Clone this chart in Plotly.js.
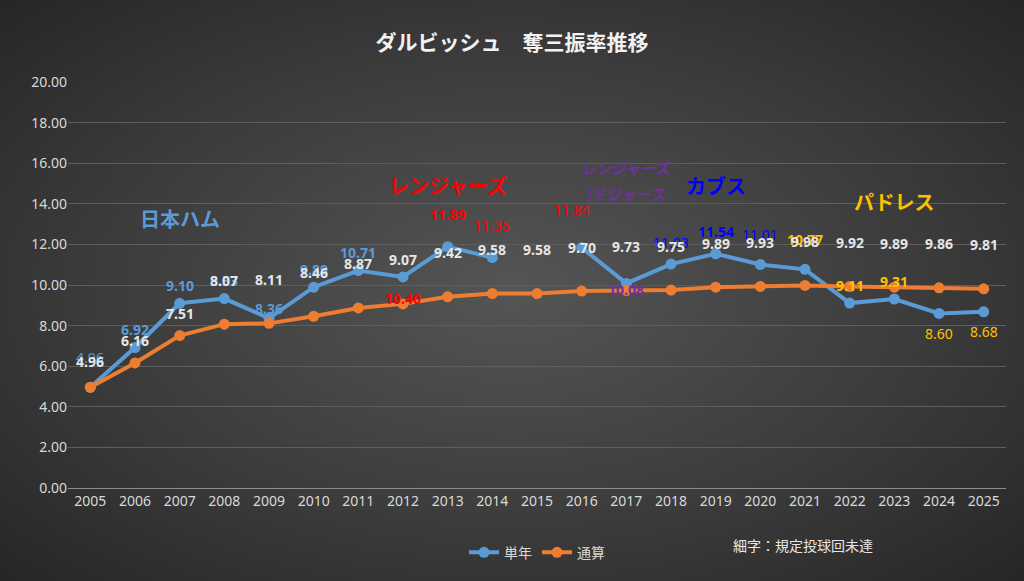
<!DOCTYPE html>
<html><head><meta charset="utf-8">
<script src="https://cdn.plot.ly/plotly-3.0.1.min.js"></script>
<style>
html,body{margin:0;padding:0;background:#333;}
#chart{width:1024px;height:581px;background:radial-gradient(ellipse at 50% 50%,#555 0%,#3a3a3a 60%,#262626 100%);}
</style></head>
<body><div id="chart"></div>
<script>
const years = [2005,2006,2007,2008,2009,2010,2011,2012,2013,2014,2015,2016,2017,2018,2019,2020,2021,2022,2023,2024,2025];
const single = [4.96,6.92,9.10,9.33,8.36,9.89,10.71,10.40,11.89,11.35,null,11.84,10.08,11.03,11.54,11.01,10.77,9.11,9.31,8.60,8.68];
const total = [4.96,6.16,7.51,8.07,8.11,8.46,8.87,9.07,9.42,9.58,9.58,9.70,9.73,9.75,9.89,9.93,9.98,9.92,9.89,9.86,9.81];
// label colour per season (team) and whether qualified (bold)
const singleColor = ['#5b9bd5','#5b9bd5','#5b9bd5','#5b9bd5','#5b9bd5','#5b9bd5','#5b9bd5','#ff0000','#ff0000','#ff0000',null,'#ff0000','#7030a0','#0000ff','#0000ff','#0000ff','#ffc000','#ffc000','#ffc000','#ffc000','#ffc000'];
const singleBold = [false,true,true,true,true,true,true,true,true,false,null,false,true,false,true,false,true,true,true,false,false];
const singleShift = [30,18,18,18,10,18,18,-22,32,32,null,38,-6,22,22,30,30,18,18,-20,-20];
const singleXShift = [0,0,0,0,0,0,0,0,0,0,0,-10,0,0,0,0,0,0,0,0,0];
const teams = ['日本ハム','レンジャーズ','レンジャーズ','/ドジャース','カブス','パドレス'];
const teamX = [2007,2013,2017,2017,2019,2023];
const teamY = [13.3,14.9,15.8,14.5,14.9,14.1];
const teamColor = ['#5b9bd5','#ff0000','#7030a0','#7030a0','#0000ff','#ffc000'];
const teamSize = [20,20,15,15,20,20];

const ann = [];
years.forEach((y,i)=>{
  if(single[i]!==null){
    const t = single[i].toFixed(2);
    ann.push({x:y,y:single[i],text:singleBold[i]?'<b>'+t+'</b>':t,showarrow:false,yshift:singleShift[i],xshift:singleXShift[i],
      font:{size:14,color:singleColor[i],family:'Noto Sans'}});
  }
  ann.push({x:y,y:total[i],text:'<b>'+total[i].toFixed(2)+'</b>',showarrow:false,yshift:i===0?26:i<=2?22:44,
    font:{size:14,color:'#e6e6e6',family:'Noto Sans'}});
});
teams.forEach((t,i)=>ann.push({x:teamX[i],y:teamY[i],text:'<b>'+t+'</b>',showarrow:false,
  font:{size:teamSize[i],color:teamColor[i],family:'Noto Sans CJK JP'}}));
ann.push({xref:'paper',yref:'paper',x:0.86,y:-0.17,text:'細字：規定投球回未達',showarrow:false,
  font:{size:14,color:'#e6e6e6',family:'Noto Sans CJK JP'}});

const traces = [
  {x:years,y:single,name:'単年',type:'scatter',mode:'lines+markers',connectgaps:false,
   line:{color:'#5b9bd5',width:4},marker:{size:11,color:'#5b9bd5'}},
  {x:years,y:total,name:'通算',type:'scatter',mode:'lines+markers',
   line:{color:'#ed7d31',width:4},marker:{size:11,color:'#ed7d31'}}
];
Plotly.newPlot('chart',traces,{
  width:1024,height:581,
  paper_bgcolor:'rgba(0,0,0,0)',plot_bgcolor:'rgba(0,0,0,0)',
  font:{family:'Noto Sans CJK JP',color:'#d9d9d9'},
  title:{text:'<b>ダルビッシュ　奪三振率推移</b>',x:0.5,y:0.94,font:{size:21,color:'#f2f2f2'}},
  margin:{l:68,r:18,t:82,b:85},
  xaxis:{type:'linear',range:[2004.5,2025.5],dtick:1,tick0:2005,tickformat:'d',tickfont:{size:14,color:'#d9d9d9',family:'Noto Sans'},showgrid:false,showline:true,linecolor:'#8c8c8c',ticks:'',zeroline:false},
  yaxis:{range:[0,20],dtick:2,tickformat:'.2f',tickfont:{size:14,color:'#d9d9d9',family:'Noto Sans'},gridcolor:'#5e5e5e',zeroline:false},
  legend:{orientation:'h',x:0.5,xanchor:'center',y:-0.12,font:{size:14,color:'#d9d9d9'}},
  showlegend:true,
  annotations:ann
},{displayModeBar:false});
</script></body></html>
